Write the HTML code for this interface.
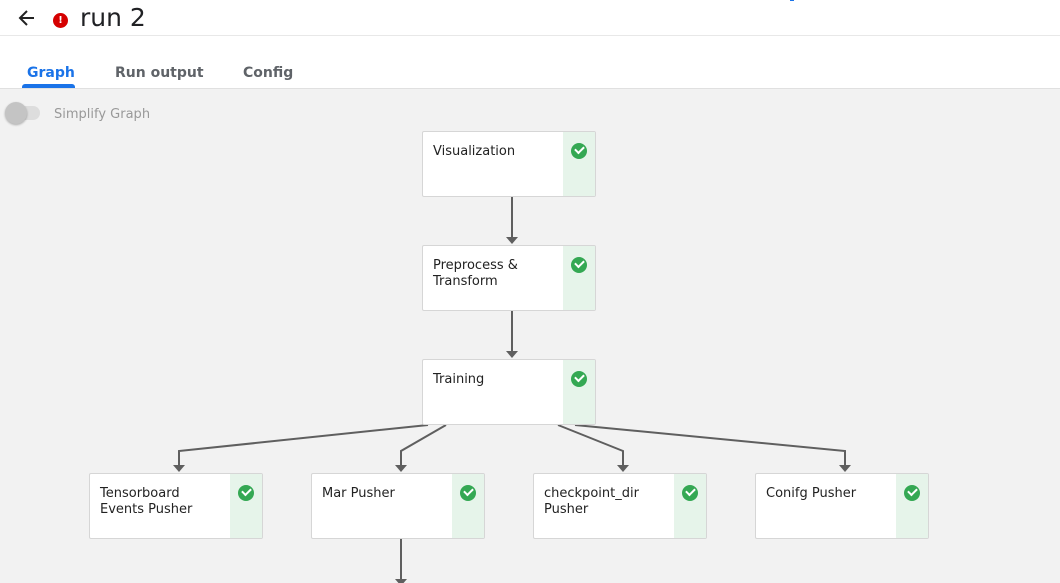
<!DOCTYPE html>
<html><head><meta charset="utf-8"><style>
body{margin:0;width:1060px;height:583px;overflow:hidden;font-family:"DejaVu Sans","Liberation Sans",sans-serif;background:#fff;position:relative}
.hdr{position:absolute;left:0;top:0;width:1060px;height:35px;border-bottom:1px solid #e8e8e8}
.tabs{position:absolute;top:36px;left:0;width:1060px;height:52px;border-bottom:1px solid #e0e0e0}
.tab{position:absolute;top:29px;font-size:14px;font-weight:bold;color:#5f6368}
.canvas{position:absolute;top:89px;left:0;width:1060px;height:494px;background:#f2f2f2}
.node{position:absolute;width:172px;height:64px;background:#fff;border:1px solid #d6d6d6;border-radius:2px;overflow:hidden}
.node .t{position:absolute;left:10px;top:12px;font-size:13px;color:#222;line-height:16px}
.node .s{position:absolute;right:0;top:0;width:32px;height:64px;background:#e6f4ea}
.node .c{position:absolute;left:8px;top:11px;width:16px;height:16px;border-radius:50%;background:#34a853}
</style></head><body>
<div class="hdr">
<svg style="position:absolute;left:17px;top:8px" width="20" height="20" viewBox="0 0 20 20"><path d="M17 10H4M10 3L3 10l7 7" stroke="#222" stroke-width="2" fill="none"/></svg>
<div style="position:absolute;left:53px;top:13px;width:15px;height:15px;border-radius:50%;background:#d50000;color:#fff;font-size:10px;font-weight:bold;text-align:center;line-height:15px">!</div>
<div style="position:absolute;left:80px;top:3px;font-size:25px;color:#202124">run 2</div>
<div style="position:absolute;left:790px;top:-3px;width:4px;height:4px;background:#1a73e8"></div>
</div>
<div class="tabs">
<div class="tab" style="left:27px;color:#1a73e8">Graph</div>
<div style="position:absolute;left:22px;top:48px;width:53px;height:4px;background:#1a73e8;border-radius:3px 3px 0 0"></div>
<div class="tab" style="left:115px">Run output</div>
<div class="tab" style="left:243px">Config</div>
</div>
<div class="canvas">
<div style="position:absolute;left:8px;top:17px;width:32px;height:14px;border-radius:7px;background:#ddd"></div>
<div style="position:absolute;left:5px;top:13px;width:22px;height:22px;border-radius:50%;background:#c4c4c4;box-shadow:0 1px 2px rgba(0,0,0,.3)"></div>
<div style="position:absolute;left:54px;top:18px;font-size:13px;color:#999">Simplify Graph</div>
</div>
<svg style="position:absolute;left:0;top:0" width="1060" height="583">
<g stroke="#5f5f5f" stroke-width="2" fill="none">
<path d="M512 197V238M512 311V352M428 425L179 451V465M446 425L401 451V465M558 425L623 451V465M575 425L845 451V465M401 539V580"/>
</g>
<g fill="#5f5f5f">
<path d="M506 237h12l-6 7z"/><path d="M506 351h12l-6 7z"/>
<path d="M173 465h12l-6 7z"/><path d="M395 465h12l-6 7z"/><path d="M617 465h12l-6 7z"/><path d="M839 465h12l-6 7z"/>
<path d="M395 579h12l-6 7z"/>
</g>
</svg>
<div class="node" style="left:422px;top:131px"><div class="t">Visualization</div><div class="s"><div class="c"></div></div></div>
<div class="node" style="left:422px;top:245px"><div class="t">Preprocess &amp;<br>Transform</div><div class="s"><div class="c"></div></div></div>
<div class="node" style="left:422px;top:359px"><div class="t">Training</div><div class="s"><div class="c"></div></div></div>
<div class="node" style="left:89px;top:473px"><div class="t">Tensorboard<br>Events Pusher</div><div class="s"><div class="c"></div></div></div>
<div class="node" style="left:311px;top:473px"><div class="t">Mar Pusher</div><div class="s"><div class="c"></div></div></div>
<div class="node" style="left:533px;top:473px"><div class="t">checkpoint_dir<br>Pusher</div><div class="s"><div class="c"></div></div></div>
<div class="node" style="left:755px;top:473px"><div class="t">Conifg Pusher</div><div class="s"><div class="c"></div></div></div>
<style>.c::after{content:"";position:absolute;left:4px;top:3px;width:7px;height:4px;border-left:2px solid #fff;border-bottom:2px solid #fff;transform:rotate(-45deg)}</style>
</body></html>
